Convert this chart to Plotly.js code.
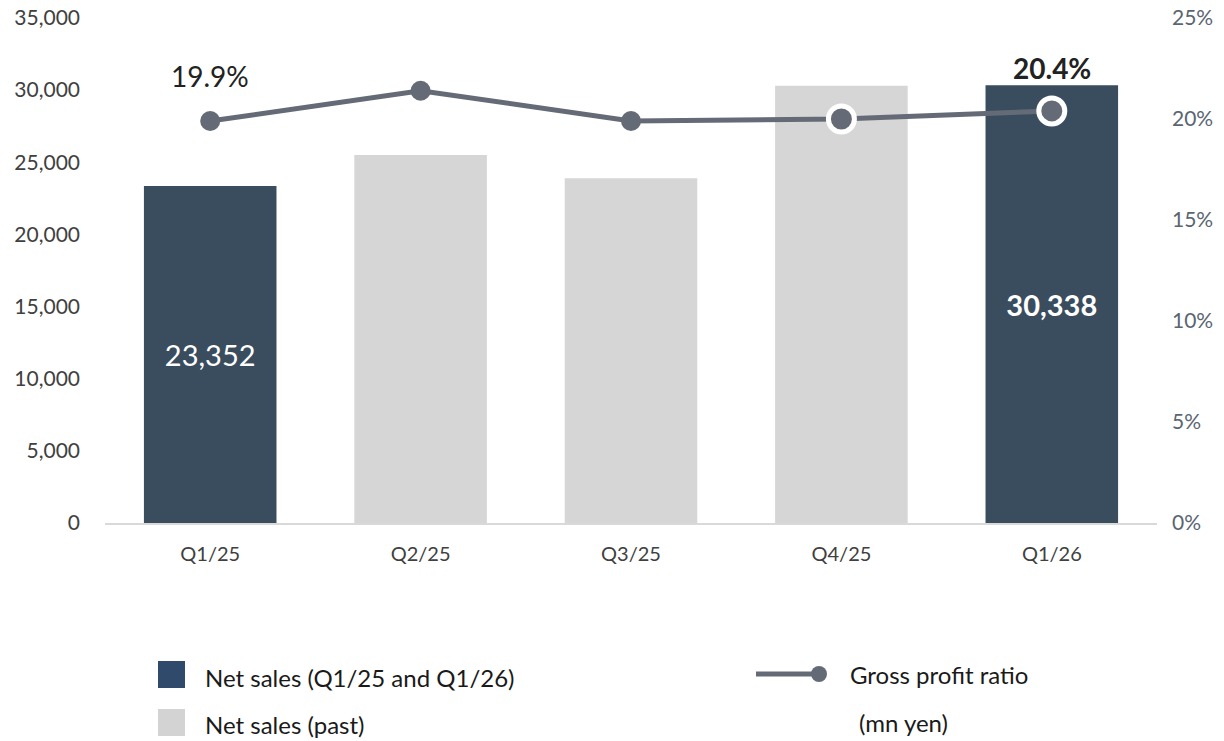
<!DOCTYPE html>
<html>
<head>
<meta charset="utf-8">
<script src="https://cdn.plot.ly/plotly-3.0.1.min.js"></script>
<style>html,body{margin:0;padding:0;background:#fff;}#chart{width:1224px;height:741px;}</style>
</head>
<body>
<div id="chart"></div>
<script>
const categories = ["Q1/25", "Q2/25", "Q3/25", "Q4/25", "Q1/26"];
const netSales = [23352, 25500, 23900, 30300, 30338];
const highlighted = [true, false, false, false, true];
const grossProfitRatio = [19.9, 21.4, 19.9, 20.0, 20.4];
const ratioLabels = ["19.9%", "", "", "", "20.4%"];
const salesLabels = ["23,352", "", "", "", "30,338"];
const legendLabels = ["Net sales (Q1/25 and Q1/26)", "Net sales (past)", "Gross profit ratio", "(mn yen)"];

const FONT = "Lato, 'Open Sans', sans-serif";
const DARK = "#3a4d5e", LIGHT = "#d6d6d6", LINE = "#656b76";

const L = 105, R = 67, T = 18, B = 218, W = 1224, H = 741;
const pw = W - L - R, ph = H - T - B;
const px = x => (x - L) / pw;
const py = y => (H - B - y) / ph;

const darkY = netSales.map((v, i) => highlighted[i] ? v : null);
const lightY = netSales.map((v, i) => highlighted[i] ? null : v);
const darkText = salesLabels.map((t, i) => highlighted[i] ? (i === 4 ? "<b>" + t + "</b>" : t) : "");

const traces = [
  { type: "bar", x: categories, y: darkY, marker: { color: DARK }, width: 0.63,
    text: darkText, texttemplate: "%{text}", textposition: "inside", insidetextanchor: "middle",
    textfont: { family: FONT, size: 29, color: "#ffffff" }, hoverinfo: "skip", showlegend: false },
  { type: "bar", x: categories, y: lightY, marker: { color: LIGHT }, width: 0.63, hoverinfo: "skip", showlegend: false },
  { type: "scatter", mode: "lines+markers", x: categories, y: grossProfitRatio, yaxis: "y2",
    line: { color: LINE, width: 5 },
    marker: { color: LINE, opacity: 1, size: [20, 20, 20, 26, 26],
      line: { color: "#ffffff", width: [0, 0, 0, 5, 5] } },
    hoverinfo: "skip", showlegend: false }
];

const annotations = [];
grossProfitRatio.forEach((v, i) => {
  if (ratioLabels[i]) {
    annotations.push({ x: categories[i], y: v, xref: "x", yref: "y2", text: i === 4 ? "<b>" + ratioLabels[i] + "</b>" : ratioLabels[i],
      showarrow: false, yshift: i === 4 ? 43 : 45, font: { family: FONT, size: 28, color: "#222222" } });
  }
});
const legFont = { family: FONT, size: 24, color: "#1a1a1a" };
annotations.push({ xref: "paper", yref: "paper", x: px(203), y: py(677), xanchor: "left", yanchor: "middle", text: legendLabels[0], showarrow: false, font: legFont });
annotations.push({ xref: "paper", yref: "paper", x: px(203), y: py(724), xanchor: "left", yanchor: "middle", text: legendLabels[1], showarrow: false, font: legFont });
annotations.push({ xref: "paper", yref: "paper", x: px(848), y: py(674), xanchor: "left", yanchor: "middle", text: legendLabels[2], showarrow: false, font: legFont });
annotations.push({ xref: "paper", yref: "paper", x: px(857), y: py(722), xanchor: "left", yanchor: "middle", text: legendLabels[3], showarrow: false, font: legFont });

const shapes = [
  { type: "rect", xref: "paper", yref: "paper", x0: px(158), x1: px(185), y0: py(688), y1: py(661), fillcolor: "#2f4a6b", line: { width: 0 } },
  { type: "rect", xref: "paper", yref: "paper", x0: px(158), x1: px(185), y0: py(736), y1: py(709), fillcolor: "#d3d3d3", line: { width: 0 } },
  { type: "line", xref: "paper", yref: "paper", x0: px(756), x1: px(818), y0: py(674), y1: py(674), line: { color: LINE, width: 5 } },
  { type: "circle", xref: "paper", yref: "paper", x0: px(811), x1: px(827), y0: py(682), y1: py(666), fillcolor: LINE, line: { width: 0 } }
];

const layout = {
  width: W, height: H,
  margin: { l: L, r: R, t: T, b: B, pad: 0 },
  paper_bgcolor: "#ffffff", plot_bgcolor: "#ffffff",
  barmode: "overlay",
  font: { family: FONT },
  xaxis: { type: "category", showgrid: false, zeroline: false, showline: true, linecolor: "#d9d9d9", linewidth: 2,
    ticks: "", tickfont: { family: FONT, size: 20, color: "#404040" }, ticklabelstandoff: 12 },
  yaxis: { range: [0, 35000], dtick: 5000, tickformat: ",d", showgrid: false, zeroline: false, showline: false,
    ticks: "", tickfont: { family: FONT, size: 21, color: "#404040" }, ticklabelstandoff: 24 },
  yaxis2: { range: [0, 25], dtick: 5, ticksuffix: "%", overlaying: "y", side: "right", showgrid: false, zeroline: false,
    showline: false, ticks: "", tickfont: { family: FONT, size: 21, color: "#5a6572" }, ticklabelstandoff: 14 },
  annotations: annotations,
  shapes: shapes,
  showlegend: false
};

Plotly.newPlot("chart", traces, layout, { staticPlot: true, displayModeBar: false });
</script>
</body>
</html>
